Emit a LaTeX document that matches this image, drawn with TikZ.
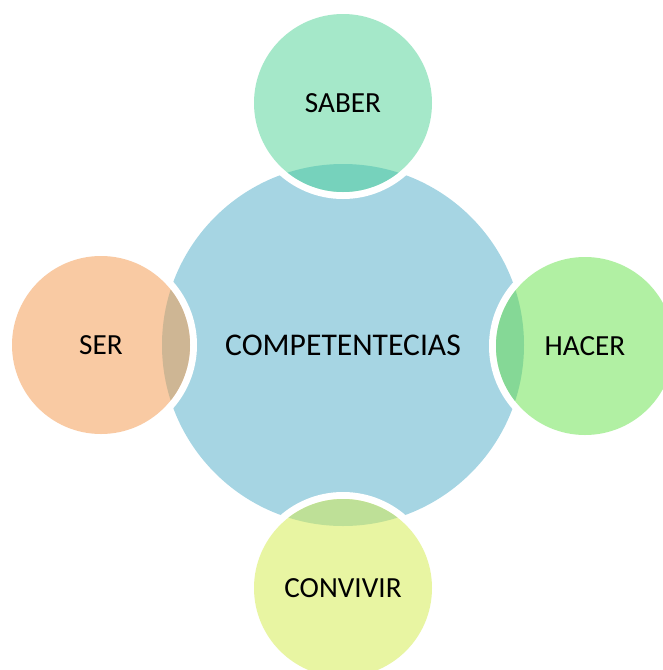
\documentclass[tikz,border=0pt]{standalone}
\usepackage{fontspec}
\setmainfont{Carlito}
\definecolor{bluec}{HTML}{A6D5E3}
\definecolor{saberc}{HTML}{A5E8C9}
\definecolor{saberov}{HTML}{76D2BC}
\definecolor{serc}{HTML}{F9CAA3}
\definecolor{serov}{HTML}{CEB694}
\definecolor{hacerc}{HTML}{B1F0A3}
\definecolor{hacerov}{HTML}{85D896}
\definecolor{convc}{HTML}{E8F5A2}
\definecolor{convov}{HTML}{BEE097}
\tikzset{
  bigc/.style={circle, inner sep=0pt, minimum size=362pt, fill=bluec,
    font=\fontsize{31.6}{33}\selectfont},
  smallc/.style n args={2}{circle, inner sep=0pt, minimum size=178pt, fill=#1,
    preaction={draw=white, line width=14pt},
    path picture={\fill[#2] (comp.center) circle[radius=181pt];},
    font=\fontsize{29.2}{31}\selectfont}
}
\begin{document}
\begin{tikzpicture}[x=1pt,y=-1pt]
\useasboundingbox (0,0) rectangle (663,670);
\node[bigc] (comp) at (343,345) {COMPETENTECIAS};
\node[smallc={saberc}{saberov}] (saber) at (343,103) {SABER};
\node[smallc={serc}{serov}] (ser) at (101,345) {SER};
\node[smallc={hacerc}{hacerov}] (hacer) at (585,346) {HACER};
\node[smallc={convc}{convov}] (conv) at (343,588) {CONVIVIR};
\end{tikzpicture}
\end{document}
